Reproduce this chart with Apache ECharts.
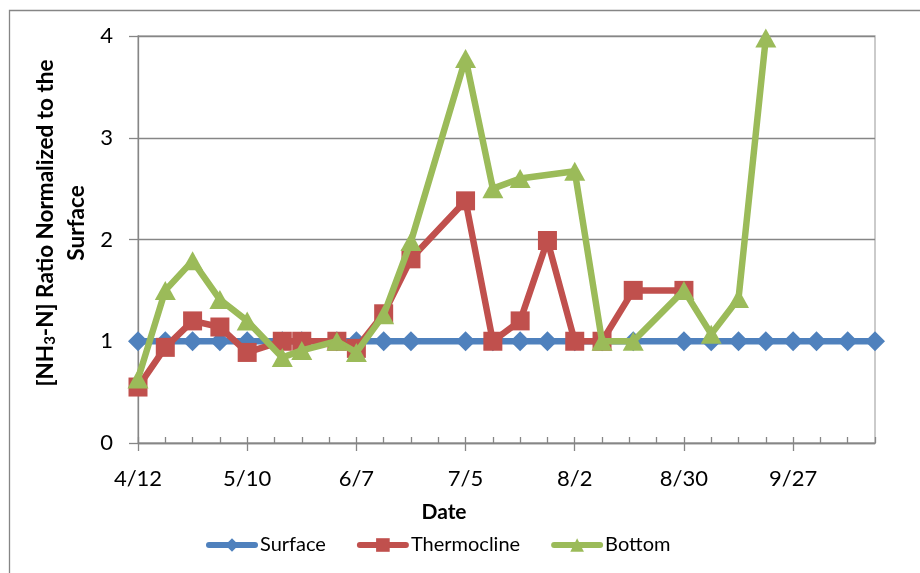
<!DOCTYPE html>
<html>
<head>
<meta charset="utf-8">
<script src="https://cdn.jsdelivr.net/npm/echarts@6/dist/echarts.min.js"></script>
<style>
html,body{margin:0;padding:0;background:#fff;}
#c{width:920px;height:573px;}
</style>
</head>
<body>
<div id="c"></div>
<script>
// Sampling dates (month/day)
const dates = ["4/12","4/19","4/26","5/3","5/10","5/19","5/24","6/2","6/7","6/14","6/21","7/5","7/12","7/19","7/26","8/2","8/9","8/17","8/30","9/6","9/13","9/20","9/27","10/3","10/11","10/18"];
// Ratio values aligned with dates (null = no sample)
const surface     = [1,1,1,1,1,1,1,1,1,1,1,1,1,1,1,1,1,1,1,1,1,1,1,1,1,1];
const thermocline = [0.55,0.94,1.20,1.14,0.89,1.00,1.00,1.00,0.93,1.27,1.81,2.38,1.00,1.20,1.99,1.00,1.00,1.50,1.50,null,null,null,null,null,null,null];
const bottom      = [0.63,1.50,1.79,1.41,1.20,0.84,0.91,1.00,0.89,1.26,1.98,3.78,2.50,2.60,null,2.67,1.00,1.00,1.50,1.07,1.42,3.98,null,null,null,null];
const seriesNames = ["Surface","Thermocline","Bottom"];
const yTicks = [0,1,2,3,4];

const YEAR = 2009;
const start = Date.UTC(YEAR,3,12);
const DAY = 86400000;
function dayOf(s){const p=s.split('/');return Math.round((Date.UTC(YEAR,+p[0]-1,+p[1])-start)/DAY);}
function labelOf(d){const t=new Date(start+d*DAY);return (t.getUTCMonth()+1)+'/'+t.getUTCDate();}
const xs = dates.map(dayOf);
const xMax = xs[xs.length-1];
function pairs(vals){const out=[];vals.forEach((v,i)=>{if(v!==null)out.push([xs[i],v]);});return out;}

const FONT = 'Lato';
const chart = echarts.init(document.getElementById('c'), null, {renderer:'canvas'});
const axisGray = '#868686';
const LW = 6.5;
function lineSeries(i, data, color, symbol, size, z){
  return {name:seriesNames[i],type:'line',data:data,symbol:symbol,symbolSize:size,z:z,
    itemStyle:{color:color,borderWidth:0},
    lineStyle:{width:LW,color:color,cap:'round',join:'round'},
    emphasis:{disabled:true}};
}
chart.setOption({
  animation:false,
  textStyle:{fontFamily:FONT},
  grid:{left:138,top:36,right:45,bottom:130,show:true,borderColor:'#b0b0b0',borderWidth:1.3},
  xAxis:[{
    type:'value',min:0,max:xMax,interval:28,position:'bottom',
    axisLine:{lineStyle:{color:axisGray,width:1.3}},
    axisTick:{length:8,lineStyle:{color:axisGray,width:1.3}},
    axisLabel:{margin:25,fontFamily:FONT,fontSize:22,color:'#000',showMaxLabel:false,
      formatter:v=>(v%28===0?labelOf(v):'')},
    splitLine:{show:false}
  },{
    type:'value',min:0,max:xMax,interval:7,position:'bottom',
    axisLine:{show:false},
    axisTick:{inside:true,length:6,lineStyle:{color:axisGray,width:1.3}},
    axisLabel:{show:false},splitLine:{show:false}
  }],
  yAxis:{
    type:'value',min:yTicks[0],max:yTicks[yTicks.length-1],interval:1,
    axisLine:{show:true,lineStyle:{color:axisGray,width:1.3}},
    axisTick:{show:true,length:9,lineStyle:{color:axisGray,width:1.3}},
    axisLabel:{margin:25,fontFamily:FONT,fontSize:22,color:'#000'},
    splitLine:{lineStyle:{color:axisGray,width:1.3}}
  },
  legend:{
    left:201,top:530,itemWidth:46,itemHeight:17,itemGap:31,
    lineStyle:{width:6},
    textStyle:{fontFamily:FONT,fontSize:20,color:'#000'},
    data:seriesNames
  },
  graphic:[
    {type:'rect',shape:{x:9.5,y:10.5,width:930,height:580},style:{fill:null,stroke:'#868686',lineWidth:1.3},silent:true},
    {type:'text',x:444,y:512,style:{text:'Date',fontFamily:FONT,fontWeight:'bold',fontSize:21,fill:'#000',align:'center',verticalAlign:'middle'}},
    {type:'text',x:61,y:223,rotation:Math.PI/2,style:{
      text:'{b|[NH}{s|3}{b|-N] Ratio Normalized to the}\n{b|Surface}',
      align:'center',verticalAlign:'middle',fill:'#000',
      rich:{b:{fontFamily:FONT,fontWeight:'bold',fontSize:22.5,lineHeight:31},
            s:{fontFamily:FONT,fontWeight:'bold',fontSize:15,lineHeight:31,padding:[10,0,0,0]}}
    }}
  ],
  series:[
    lineSeries(0, pairs(surface), '#4F81BD', 'diamond', [20,20], 2),
    lineSeries(1, pairs(thermocline), '#C0504D', 'rect', 19, 3),
    lineSeries(2, pairs(bottom), '#9BBB59', 'triangle', [21,19], 4)
  ]
});
</script>
</body>
</html>
